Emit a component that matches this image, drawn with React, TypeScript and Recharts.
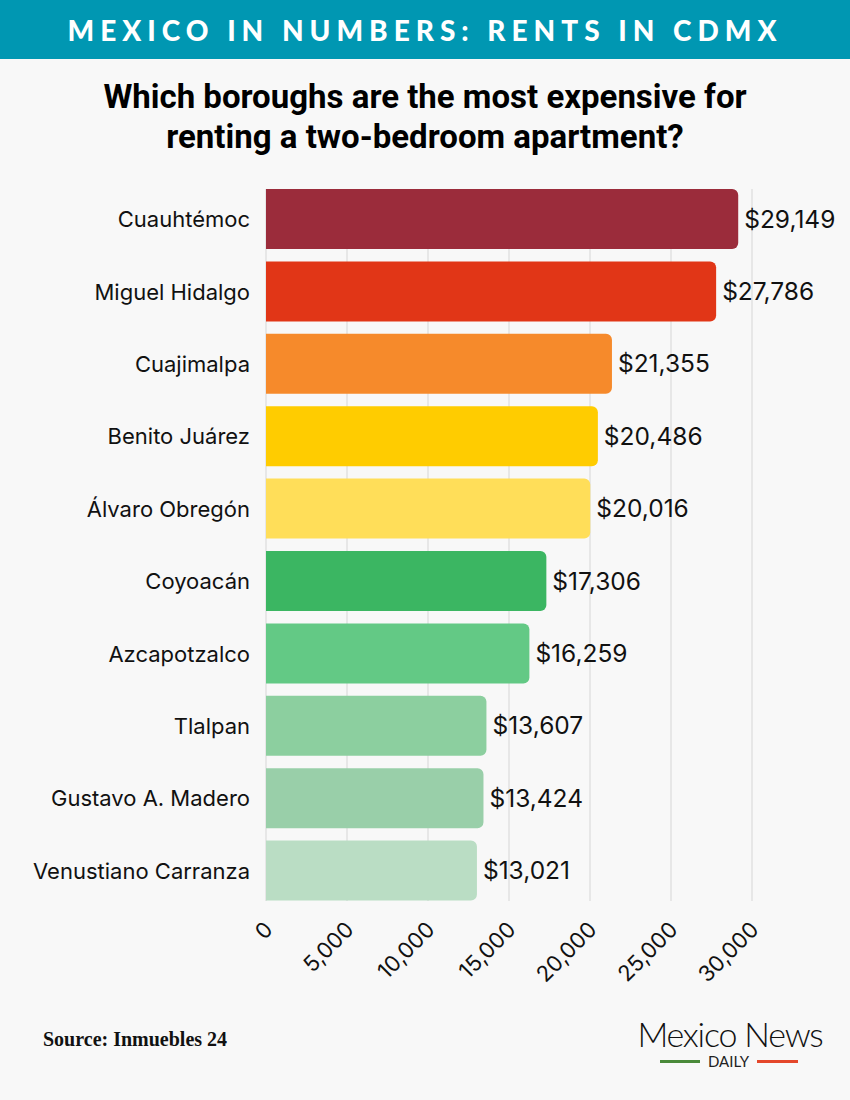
import React from "react";
import { BarChart, Bar, XAxis, YAxis, CartesianGrid, Cell, LabelList } from "recharts";

const boroughs = [
  "Cuauhtémoc",
  "Miguel Hidalgo",
  "Cuajimalpa",
  "Benito Juárez",
  "Álvaro Obregón",
  "Coyoacán",
  "Azcapotzalco",
  "Tlalpan",
  "Gustavo A. Madero",
  "Venustiano Carranza",
];
const rents = [29149, 27786, 21355, 20486, 20016, 17306, 16259, 13607, 13424, 13021];
const barColors = [
  "#9B2C3B",
  "#E13617",
  "#F68A2B",
  "#FFCC00",
  "#FFDE59",
  "#3BB662",
  "#63C985",
  "#8CCF9F",
  "#99CFA9",
  "#BADDC4",
];
const xTicks = [0, 5000, 10000, 15000, 20000, 25000, 30000];

const data = boroughs.map((name, i) => ({ name, rent: rents[i], color: barColors[i] }));

const FONT = "Inter, 'Noto Sans', sans-serif";

const fmtNum = (v: number) => v.toLocaleString("en-US");

const XTick = (props: any) => {
  const { x, y, payload } = props;
  const px = x + 8;
  const py = y + 22;
  return (
    <text
      x={px}
      y={py}
      transform={`rotate(-45, ${px}, ${py})`}
      textAnchor="end"
      fontSize={22}
      fontFamily={FONT}
      fill="#111"
    >
      {fmtNum(payload.value)}
    </text>
  );
};

const YTick = (props: any) => {
  const { x, y, payload } = props;
  return (
    <text x={x} y={y} dy={8} textAnchor="end" fontSize={22} fontFamily={FONT} fill="#111">
      {payload.value}
    </text>
  );
};

export default function App() {
  return (
    <div
      style={{
        position: "absolute",
        left: 0,
        top: 0,
        width: 850,
        height: 1100,
        background: "#F8F8F8",
        overflow: "hidden",
      }}
    >
      <div
        style={{
          position: "absolute",
          left: 0,
          top: 0,
          width: 850,
          height: 59,
          background: "#0097B2",
          color: "#fff",
          fontFamily: "Lato, sans-serif",
          fontWeight: 900,
          fontSize: 28,
          letterSpacing: 6,
          lineHeight: "60px",
          textAlign: "center",
        }}
      >
        MEXICO IN NUMBERS: RENTS IN CDMX
      </div>
      <div
        style={{
          position: "absolute",
          left: 0,
          top: 77,
          width: 850,
          textAlign: "center",
          fontFamily: "Roboto, sans-serif",
          fontWeight: 700,
          fontSize: 33,
          lineHeight: "40px",
          color: "#000",
        }}
      >
        Which boroughs are the most expensive for
        <br />
        renting a two-bedroom apartment?
      </div>
      <div style={{ position: "absolute", left: 0, top: 170 }}>
        <BarChart
          width={850}
          height={820}
          data={data}
          layout="vertical"
          margin={{ top: 13, right: 98, bottom: 0, left: 0 }}
          barSize={60}
        >
          <CartesianGrid horizontal={false} vertical={true} stroke="#D6D6D6" y={19} height={712} />
          <XAxis
            type="number"
            dataKey="rent"
            domain={[0, 30000]}
            ticks={xTicks}
            tick={<XTick />}
            axisLine={false}
            tickLine={false}
            tickSize={0}
            height={83}
            interval={0}
          />
          <YAxis
            type="category"
            dataKey="name"
            width={266}
            tick={<YTick />}
            axisLine={false}
            tickLine={false}
            tickSize={0}
            tickMargin={16}
            interval={0}
          />
          <Bar dataKey="rent" isAnimationActive={false} radius={[0, 6, 6, 0]}>
            {data.map((d) => (
              <Cell key={d.name} fill={d.color} />
            ))}
            <LabelList
              dataKey="rent"
              position="right"
              offset={6}
              formatter={(v: any) => `$${fmtNum(Number(v))}`}
              style={{ fontSize: 24.5, fontFamily: FONT, fill: "#111" }}
            />
          </Bar>
        </BarChart>
      </div>
      <div
        style={{
          position: "absolute",
          left: 43,
          top: 1028,
          fontFamily: "'Liberation Serif', serif",
          fontWeight: 700,
          fontSize: 20,
          color: "#111",
        }}
      >
        Source: Inmuebles 24
      </div>
      <div
        style={{
          position: "absolute",
          left: 618,
          top: 1016,
          width: 224,
          textAlign: "center",
          fontFamily: "Lato, sans-serif",
          fontWeight: 300,
          fontSize: 34,
          letterSpacing: -1.2,
          lineHeight: "36px",
          color: "#111",
        }}
      >
        Mexico News
      </div>
      <div
        style={{
          position: "absolute",
          left: 660,
          top: 1060,
          width: 40,
          height: 3,
          background: "#4A8A3A",
        }}
      />
      <div
        style={{
          position: "absolute",
          left: 757,
          top: 1060,
          width: 41,
          height: 3,
          background: "#E4472B",
        }}
      />
      <div
        style={{
          position: "absolute",
          left: 700,
          top: 1051,
          width: 57,
          textAlign: "center",
          fontFamily: "Lato, sans-serif",
          fontWeight: 400,
          fontSize: 15,
          lineHeight: "20px",
          color: "#222",
        }}
      >
        DAILY
      </div>
    </div>
  );
}
